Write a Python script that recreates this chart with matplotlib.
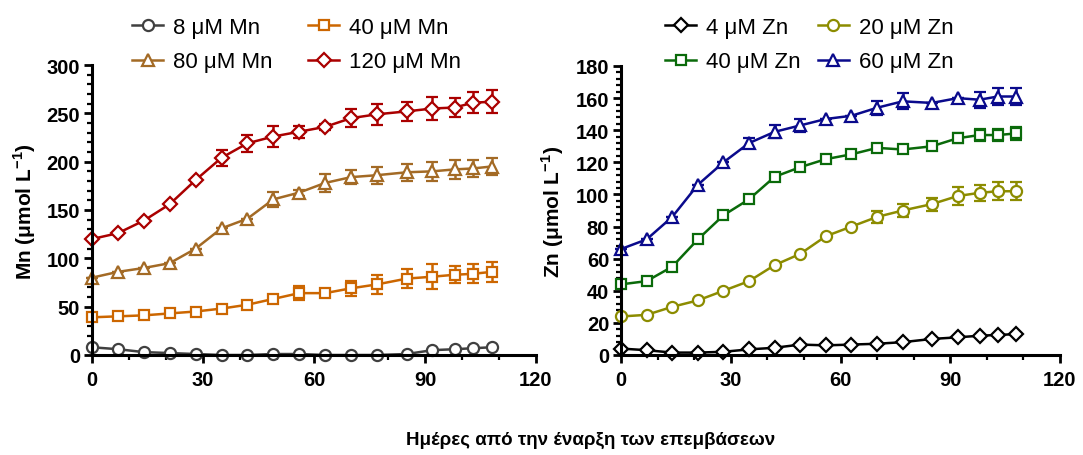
import matplotlib
matplotlib.use("Agg")
import matplotlib.pyplot as plt
from matplotlib.ticker import MultipleLocator
from matplotlib.lines import Line2D

plt.rcParams['font.family'] = ['Liberation Sans', 'DejaVu Sans']
plt.rcParams['mathtext.fontset'] = 'custom'
plt.rcParams['mathtext.rm'] = 'Liberation Sans'
plt.rcParams['mathtext.bf'] = 'Liberation Sans:bold'

days = [0, 7, 14, 21, 28, 35, 42, 49, 56, 63, 70, 77, 85, 92, 98, 103, 108]

mn_labels = ['8 μM Mn', '40 μM Mn', '80 μM Mn', '120 μM Mn']
mn8 = [8, 6, 3, 2, 1, 0, 0, 1, 1, 0, 0, 0, 1, 5, 6, 7, 8]
mn8_err = [0] * 17
mn40 = [39, 40, 41, 43, 45, 48, 52, 58, 64, 64, 69, 73, 79, 81, 83, 84, 86]
mn40_err = [0, 0, 0, 0, 0, 0, 0, 2, 7, 3, 8, 10, 10, 13, 9, 10, 10]
mn80 = [80, 86, 90, 95, 110, 131, 141, 161, 168, 178, 184, 186, 189, 190, 192, 193, 195]
mn80_err = [0, 0, 0, 0, 0, 0, 0, 8, 3, 9, 7, 9, 9, 10, 10, 9, 9]
mn120 = [120, 126, 139, 156, 181, 204, 219, 226, 231, 236, 245, 249, 252, 255, 256, 261, 262]
mn120_err = [0, 0, 0, 0, 0, 8, 9, 11, 6, 3, 9, 11, 10, 12, 10, 11, 12]

zn_labels = ['4 μM Zn', '20 μM Zn', '40 μM Zn', '60 μM Zn']
zn4 = [4, 3, 1.5, 1.5, 2, 3.5, 4.5, 6.5, 6, 6.5, 7, 8, 10, 11, 12, 12.5, 13]
zn4_err = [0] * 17
zn20 = [24, 25, 30, 34, 40, 46, 56, 63, 74, 80, 86, 90, 94, 99, 101, 102, 102]
zn20_err = [0, 0, 0, 0, 0, 0, 0, 0, 0, 0, 4, 4, 4, 5.5, 5, 5.5, 5.5]
zn40 = [44, 46, 55, 72, 87, 97, 111, 117, 122, 125, 129, 128, 130, 135, 137, 137, 138]
zn40_err = [0, 0, 0, 0, 0, 0, 0, 0, 0, 0, 2, 0, 0, 3, 4, 4, 4]
zn60 = [66, 72, 86, 106, 120, 132, 139, 143, 147, 149, 154, 158, 157, 160, 159, 161, 161]
zn60_err = [0, 0, 0, 0, 0, 3, 4, 4, 0, 0, 4.5, 5, 0, 0, 5, 5, 5.5]

x_label = 'Ημέρες από την έναρξη των επεμβάσεων'

W, H = 1083, 456
fig = plt.figure(figsize=(W / 100, H / 100), dpi=100)

axL = fig.add_axes([92 / W, (H - 356) / H, (536 - 92) / W, (356 - 66) / H])
axR = fig.add_axes([621 / W, (H - 356) / H, (1060 - 621) / W, (356 - 67) / H])

mn_series = [(mn8, mn8_err, '#404040', 'o'), (mn40, mn40_err, '#CC6600', 's'),
             (mn80, mn80_err, '#A36A25', '^'), (mn120, mn120_err, '#AA0000', 'D')]
zn_series = [(zn4, zn4_err, '#000000', 'D'), (zn20, zn20_err, '#8C8C00', 'o'),
             (zn40, zn40_err, '#0A6A0A', 's'), (zn60, zn60_err, '#0A0A8C', '^')]

msize = {'o': 8.0, 's': 7.5, '^': 8.0, 'D': 7.0}

def draw(ax, series, labels):
    handles = []
    for (vals, err, col, mk), lab in zip(series, labels):
        ax.errorbar(days, vals, yerr=err, color=col, lw=1.8, marker=mk,
                    ms=msize[mk], mfc='white', mec=col, mew=1.6,
                    elinewidth=1.8, capsize=4.5, capthick=1.8,
                    clip_on=False, zorder=3)
        handles.append(Line2D([0], [0], color=col, lw=1.8, marker=mk,
                              ms=msize[mk], mfc='white', mec=col, mew=1.6))
    ax.set_xlim(0, 120)
    ax.xaxis.set_major_locator(MultipleLocator(30))
    ax.xaxis.set_minor_locator(MultipleLocator(10))
    for s in ['top', 'right']:
        ax.spines[s].set_visible(False)
    for s in ['left', 'bottom']:
        ax.spines[s].set_linewidth(2.2)
        ax.spines[s].set_zorder(4)
    ax.tick_params(which='major', length=6, width=2.0, labelsize=14.5, pad=2.5)
    ax.tick_params(axis='x', which='major', pad=5)
    ax.tick_params(which='minor', length=3.5, width=1.6)
    return handles

hL = draw(axL, mn_series, mn_labels)
axL.set_ylim(0, 300)
axL.yaxis.set_major_locator(MultipleLocator(50))
axL.yaxis.set_minor_locator(MultipleLocator(10))

hR = draw(axR, zn_series, zn_labels)
axR.set_ylim(0, 180)
axR.yaxis.set_major_locator(MultipleLocator(20))
axR.yaxis.set_minor_locator(MultipleLocator(4))

for ax in (axL, axR):
    for t in ax.get_xticklabels() + ax.get_yticklabels():
        t.set_fontweight('bold')

fig.text(25 / W, (H - 212) / H, 'Mn (μmol L$^{\\mathbf{-1}}$)', rotation=90,
         ha='center', va='center', fontsize=15, fontweight='bold')
fig.text(553 / W, (H - 212) / H, 'Zn (μmol L$^{\\mathbf{-1}}$)', rotation=90,
         ha='center', va='center', fontsize=15, fontweight='bold')

leg_kw = dict(ncol=2, frameon=False, fontsize=16, handlelength=1.4,
              handletextpad=0.45, borderpad=0, labelspacing=0.6)
order = [0, 2, 1, 3]
fig.legend([hL[i] for i in order], [mn_labels[i] for i in order],
           loc='upper left', bbox_to_anchor=(121 / W, (H - 7) / H),
           columnspacing=1.6, **leg_kw)
fig.legend([hR[i] for i in order], [zn_labels[i] for i in order],
           loc='upper left', bbox_to_anchor=(654 / W, (H - 7) / H),
           columnspacing=0.75, **leg_kw)

fig.text(591 / W, (H - 440) / H, x_label, ha='center', va='center',
         fontsize=13.5, fontweight='bold')

fig.savefig('out.png', dpi=100)
